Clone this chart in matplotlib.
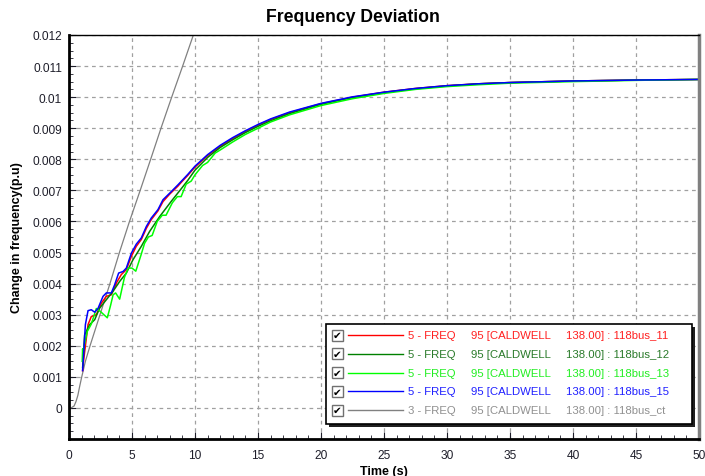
"""
Frequency deviation plot - 118 bus case, CALDWELL bus
"""
import matplotlib
matplotlib.use('Agg')
import matplotlib.pyplot as plt
from matplotlib.patches import Rectangle
from matplotlib.lines import Line2D
from matplotlib.ticker import MultipleLocator

plt.rcParams['font.family'] = ['Liberation Sans', 'DejaVu Sans']

# data (time in s, change in frequency in p.u)
t_ct = [0, 0.2, 0.4, 0.55, 0.7, 0.85, 1.0, 1.3, 1.67, 2.46, 3.25, 4.0, 4.8,
        5.65, 6.48, 7.3, 8.15, 9.02, 9.87, 10.4]
f_ct = [0, 0.00001, 0.00006, 0.0002, 0.0004, 0.0007, 0.00098, 0.0015, 0.002,
        0.003, 0.004, 0.005, 0.006, 0.007, 0.008, 0.009, 0.010, 0.011, 0.012,
        0.0126]

t_late = [10, 11, 12, 13, 14, 15, 16, 17.5, 20, 22.5, 25, 27.5, 30, 32.5, 35,
          40, 45, 50]

t_15 = [1.08, 1.11, 1.3, 1.51, 1.77, 2.04, 2.3, 2.7, 2.96, 3.36, 3.62, 3.94,
        4.29, 4.55, 4.95, 5.34, 5.74, 6.14, 6.53, 7.06, 7.46, 7.99, 8.65, 9.0,
        9.44] + t_late
f_15 = [0.0012, 0.00139, 0.00268, 0.00313, 0.00316, 0.00308, 0.0032, 0.00359,
        0.0037, 0.0037, 0.00396, 0.00434, 0.00439, 0.0045, 0.00498, 0.00527,
        0.00547, 0.00584, 0.00611, 0.00638, 0.0067, 0.00691, 0.00718, 0.00733,
        0.00752,
        0.00778, 0.00815, 0.00845, 0.0087, 0.00892, 0.00912, 0.0093, 0.00952,
        0.0098, 0.01001, 0.01016, 0.01028, 0.01037, 0.01043, 0.01047, 0.01052,
        0.01055, 0.01057]

t_11 = [1.08, 1.15, 1.51, 1.77, 2.17, 2.57, 2.96, 3.36, 3.76, 4.15, 4.55, 4.95,
        5.34, 5.74, 6.14, 6.53, 7.06, 7.46, 7.99, 8.65, 9.0, 9.44] + t_late
f_11 = [0.0012, 0.0015, 0.00268, 0.00294, 0.003, 0.00337, 0.00359, 0.00364,
        0.00402, 0.00429, 0.00445, 0.00488, 0.0052, 0.00542, 0.00578, 0.00606,
        0.00634, 0.00664, 0.00688, 0.00714, 0.0073, 0.00749,
        0.00775, 0.00812, 0.00842, 0.00867, 0.0089, 0.0091, 0.00928, 0.0095,
        0.00979, 0.01, 0.01016, 0.01028, 0.01037, 0.01043, 0.01047, 0.01052,
        0.01055, 0.01057]

t_12 = [1.08, 1.1, 1.24, 1.64, 2.04, 2.43, 2.96, 3.49, 4.02, 4.55, 5.08, 5.74,
        6.4, 7.2, 8.12, 9.0, 9.44] + t_late
f_12 = [0.0013, 0.0014, 0.00235, 0.00268, 0.00284, 0.00321, 0.00348, 0.00375,
        0.00407, 0.00434, 0.00477, 0.0052, 0.00568, 0.00616, 0.00665, 0.0071,
        0.00733,
        0.00765, 0.00806, 0.00838, 0.00863, 0.00886, 0.00906, 0.00924, 0.00947,
        0.00977, 0.00999, 0.01015, 0.01027, 0.01036, 0.01043, 0.01047, 0.01052,
        0.01055, 0.01057]

t_13 = [1.05, 1.08, 1.1, 1.45, 1.77, 2.17, 2.5, 3.04, 3.3, 3.5, 3.7, 4.02, 4.4,
        4.7, 5.0, 5.3, 5.7, 6.0, 6.3, 6.6, 7.0, 7.4, 7.7, 8.2, 8.6, 8.9, 9.3,
        9.7, 10, 10.6, 11, 11.6, 12, 13, 14, 15, 16, 17.5, 20, 22.5, 25, 27.5,
        30, 32.5, 35, 40, 45, 50]
f_13 = [0.0015, 0.0019, 0.0018, 0.00246, 0.0027, 0.0032, 0.0031, 0.0029,
        0.0033, 0.00364, 0.0037, 0.0035, 0.0042, 0.0045, 0.0045, 0.0044, 0.0049,
        0.0053, 0.0055, 0.00555, 0.006, 0.0062, 0.0062, 0.0066, 0.0068, 0.0068,
        0.0072, 0.0073, 0.0075, 0.0078, 0.0079, 0.0082, 0.0083, 0.00856,
        0.0088, 0.009, 0.0092, 0.00943, 0.00973, 0.00995, 0.01012, 0.01025,
        0.01034, 0.0104, 0.01045, 0.0105, 0.01054, 0.01057]

series_t = [t_11, t_12, t_13, t_15, t_ct]
series_f = [f_11, f_12, f_13, f_15, f_ct]
colors = ['#ff0000', '#008000', '#00ff00', '#0000ff', '#808080']
text_colors = ['#ff2020', '#2a7a2a', '#22ee22', '#2020ff', '#909090']
col_a = ['5 - FREQ', '5 - FREQ', '5 - FREQ', '5 - FREQ', '3 - FREQ']
col_b = ['95 [CALDWELL'] * 5
col_c = ['138.00] : 118bus_11', '138.00] : 118bus_12', '138.00] : 118bus_13',
         '138.00] : 118bus_15', '138.00] : 118bus_ct']

y_ticks = [0, 0.001, 0.002, 0.003, 0.004, 0.005, 0.006, 0.007, 0.008, 0.009,
           0.01, 0.011, 0.012]
y_labels = ['0', '0.001', '0.002', '0.003', '0.004', '0.005', '0.006', '0.007',
            '0.008', '0.009', '0.01', '0.011', '0.012']
x_ticks = [0, 5, 10, 15, 20, 25, 30, 35, 40, 45, 50]

W, H = 705, 477
fig = plt.figure(figsize=(W / 100, H / 100), dpi=100)
ax = fig.add_axes([69 / W, 1 - 440 / H, 630 / W, 404 / H])

# draw gray first so colored ones sit on top
ax.plot(t_ct, f_ct, color=colors[4], lw=0.9)
for tt, ff, c in zip(series_t[:4], series_f[:4], colors[:4]):
    ax.plot(tt, ff, color=c, lw=1.1)

ax.set_xlim(0, 50)
ax.set_ylim(-0.001, 0.012)
ax.set_xticks(x_ticks)
ax.set_xticklabels([str(x) for x in x_ticks])
ax.set_yticks(y_ticks)
ax.set_yticklabels(y_labels)
ax.xaxis.set_minor_locator(MultipleLocator(1))
ax.yaxis.set_minor_locator(MultipleLocator(0.00025))
ax.tick_params(which='both', direction='in', top=False, right=False,
               labelsize=8.6, colors='#1e1e2a')
ax.tick_params(axis='y', which='major', length=5, pad=5)
ax.tick_params(axis='x', which='major', length=5, pad=7)
ax.tick_params(which='minor', length=3)

ax.grid(True, which='major', color='#a0a0a0', linestyle=(0, (3, 3)), lw=0.9)

for side in ['left', 'bottom']:
    ax.spines[side].set_linewidth(2)
    ax.spines[side].set_color('black')
ax.spines['top'].set_linewidth(1)
ax.spines['right'].set_linewidth(2.5)
ax.spines['right'].set_color('#808080')

ax.set_xlabel('Time (s)', fontsize=9, fontweight='bold', labelpad=3)
fig.text(17 / W, 1 - 238 / H, 'Change in frequency(p.u)', rotation=90,
         ha='center', va='center', fontsize=9, fontweight='bold')
fig.text(0.5, 1 - 18 / H, 'Frequency Deviation', ha='center', va='center',
         fontsize=12.7, fontweight='bold')

# legend box built by hand (pixel -> axes fraction)
def ax_xy(px, py):
    return (px - 69) / 630, (440 - py) / 404

x0, y0 = ax_xy(329, 428)
x1, y1 = ax_xy(695, 328)
ax.add_patch(Rectangle((x0, y0), x1 - x0, y1 - y0, transform=ax.transAxes,
                       facecolor='#202020', edgecolor='none', zorder=10))
x0, y0 = ax_xy(326, 425)
x1, y1 = ax_xy(692, 325)
ax.add_patch(Rectangle((x0, y0), x1 - x0, y1 - y0, transform=ax.transAxes,
                       facecolor='white', edgecolor='black', lw=1.2, zorder=11))

for i in range(5):
    py = 336 + i * 18.8
    bx, by = ax_xy(331.5, py + 5.5)
    bw = 11 / 630
    bh = 11 / 404
    ax.add_patch(Rectangle((bx, by), bw, bh, transform=ax.transAxes,
                           facecolor='white', edgecolor='#707070', lw=1, zorder=12))
    cx, cy = ax_xy(337, py)
    ax.text(cx, cy, '\u2714', transform=ax.transAxes, ha='center', va='center',
            fontsize=7.5, color='black', family='DejaVu Sans', zorder=13)
    lx0, ly = ax_xy(348, py)
    lx1, _ = ax_xy(403, py)
    ax.add_line(Line2D([lx0, lx1], [ly, ly], transform=ax.transAxes,
                       color=colors[i], lw=1, zorder=13))
    for px, s in zip([408, 471.5, 566.5], [col_a[i], col_b[i], col_c[i]]):
        tx, ty = ax_xy(px, py)
        ax.text(tx, ty, s, transform=ax.transAxes, ha='left', va='center',
                fontsize=8.2, color=text_colors[i], zorder=13)

plt.savefig('out.png', dpi=100)
